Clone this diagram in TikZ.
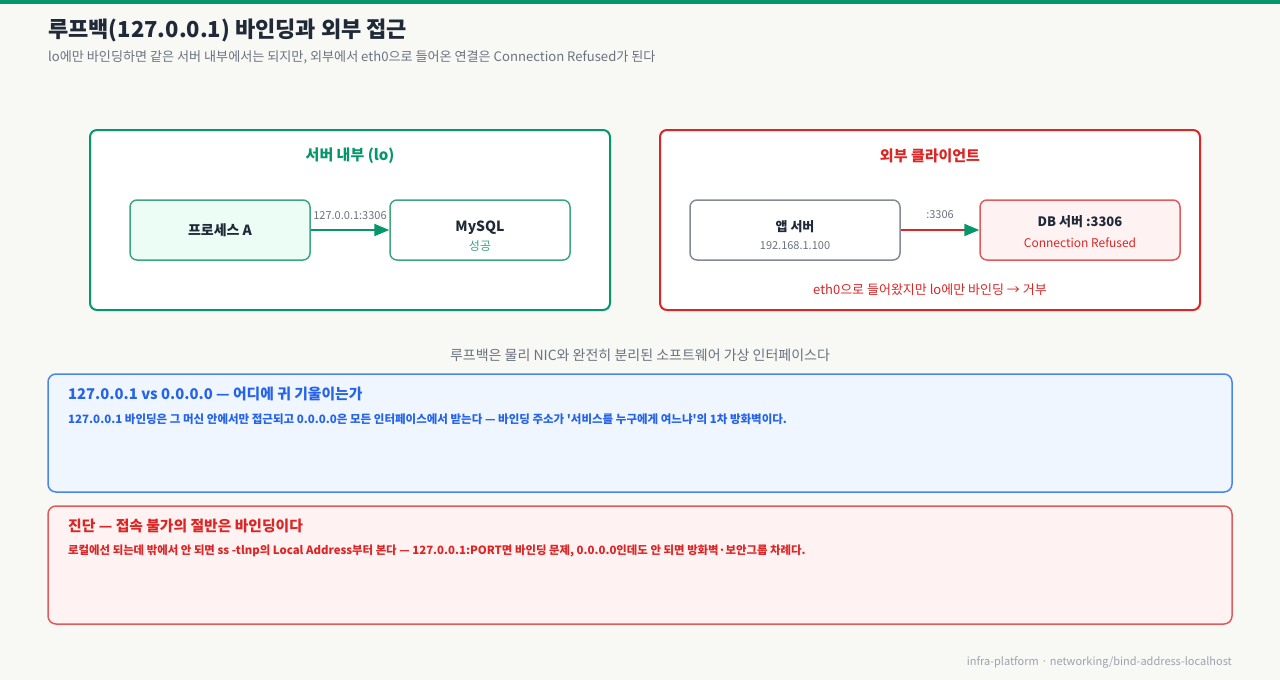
\documentclass[tikz,border=0pt]{standalone}
\usepackage{fontspec}
\setmainfont{Noto Sans CJK KR}[Ligatures=TeXOff]
\usetikzlibrary{arrows.meta}
\definecolor{bgpage}{HTML}{F8F8F5}
\definecolor{okgreen}{HTML}{059669}
\definecolor{okline}{HTML}{3DA57F}
\definecolor{okfill}{HTML}{ECFDF5}
\definecolor{badred}{HTML}{DC2626}
\definecolor{badline}{HTML}{E25A5A}
\definecolor{badfill}{HTML}{FEF2F2}
\definecolor{infoblue}{HTML}{2563EB}
\definecolor{infoline}{HTML}{4A85EE}
\definecolor{infofill}{HTML}{EFF6FF}
\definecolor{inkdark}{HTML}{1F2937}
\definecolor{inkgray}{HTML}{6B7280}
\definecolor{inklight}{HTML}{9CA3AF}
\definecolor{boxgray}{HTML}{848A96}
\begin{document}
\begin{tikzpicture}[x=1pt,y=-1pt,
  panel/.style={line width=2pt,rounded corners=7pt,fill=white},
  hostbox/.style={draw,line width=1.5pt,rounded corners=7pt,minimum height=60pt,inner sep=0pt,align=center},
  link/.style={line width=2pt,-{Triangle[length=15pt,width=12pt]}},
  portlbl/.style={font=\fontsize{11}{13}\selectfont,text=inkgray},
  note/.style={line width=1.5pt,rounded corners=8pt}]
\useasboundingbox (0,0) rectangle (1280,680);
\fill[bgpage] (0,0) rectangle (1280,680);
\fill[okgreen] (0,0) rectangle (1280,4);
% title
\node[anchor=west,inner sep=0pt,text=inkdark,font=\fontsize{22}{26}\selectfont\bfseries] (title) at (48,30) {루프백(127.0.0.1) 바인딩과 외부 접근};
\node[anchor=west,inner sep=0pt,text=inkgray,font=\fontsize{13.1}{16}\selectfont] (subtitle) at (48,57) {lo에만 바인딩하면 같은 서버 내부에서는 되지만, 외부에서 eth0으로 들어온 연결은 Connection Refused가 된다};
% inside the server
\draw[panel,draw=okgreen] (90,130) rectangle (610,310);
\node[text=okgreen,font=\fontsize{15}{18}\selectfont\bfseries] (inside) at (350,156) {서버 내부 (lo)};
\node[hostbox,draw=okline,fill=okfill,minimum width=180pt,text=inkdark,font=\fontsize{14}{17}\selectfont\bfseries] (proc) at (220,230) {프로세스 A};
\node[hostbox,draw=okline,fill=white,minimum width=180pt] (mysql) at (480,230) {{\fontsize{14}{17}\selectfont\bfseries\color{inkdark}\rule{0pt}{22pt}MySQL}\\[5pt]{\fontsize{12}{14}\selectfont\color{okline}성공}};
\draw[link,okgreen] (proc) -- node[portlbl,above=6pt] {127.0.0.1:3306} (mysql);
% external client
\draw[panel,draw=badred] (660,130) rectangle (1200,310);
\node[text=badred,font=\fontsize{15}{18}\selectfont\bfseries] (outside) at (930,156) {외부 클라이언트};
\node[hostbox,draw=boxgray,fill=white,minimum width=210pt] (app) at (795,230) {{\fontsize{13}{16}\selectfont\bfseries\color{inkdark}\rule{0pt}{21pt}앱 서버}\\[6pt]{\fontsize{11}{13}\selectfont\color{inkgray}192.168.1.100}};
\node[hostbox,draw=badline,fill=badfill,minimum width=200pt] (db) at (1080,230) {{\fontsize{13}{16}\selectfont\bfseries\color{inkdark}\rule{0pt}{14pt}DB 서버 :3306}\\[9pt]{\fontsize{12}{14}\selectfont\color{badred}Connection Refused}};
\draw[line width=2pt,badred,-{Triangle[length=15pt,width=12pt,color=okgreen]}] (app) -- node[portlbl,above=7pt] {:3306} (db);
\node[text=badred,font=\fontsize{13}{16}\selectfont] (refused) at (930,290) {eth0으로 들어왔지만 lo에만 바인딩 → 거부};
\node[text=inkgray,font=\fontsize{14}{17}\selectfont] (caption) at (640,355) {루프백은 물리 NIC와 완전히 분리된 소프트웨어 가상 인터페이스다};
% notes
\draw[note,draw=infoline,fill=infofill] (48,374) rectangle (1232,492);
\node[anchor=west,inner sep=0pt,text=infoblue,font=\fontsize{14.8}{18}\selectfont\bfseries] (bindhead) at (68,394) {127.0.0.1 vs 0.0.0.0 — 어디에 귀 기울이는가};
\node[anchor=west,inner sep=0pt,text=infoblue,font=\fontsize{11.5}{13}\selectfont\bfseries] (bindtext) at (68,419) {127.0.0.1 바인딩은 그 머신 안에서만 접근되고 0.0.0.0은 모든 인터페이스에서 받는다 — 바인딩 주소가 '서비스를 누구에게 여느냐'의 1차 방화벽이다.};
\draw[note,draw=badline,fill=badfill] (48,506) rectangle (1232,624);
\node[anchor=west,inner sep=0pt,text=badred,font=\fontsize{14.8}{18}\selectfont\bfseries] (diaghead) at (68,526) {진단 — 접속 불가의 절반은 바인딩이다};
\node[anchor=west,inner sep=0pt,text=badred,font=\fontsize{11.4}{13}\selectfont\bfseries] (diagtext) at (68,551) {로컬에선 되는데 밖에서 안 되면 ss -tlnp의 Local Address부터 본다 — 127.0.0.1:PORT면 바인딩 문제, 0.0.0.0인데도 안 되면 방화벽·보안그룹 차례다.};
\node[anchor=east,inner sep=0pt,text=inklight,font=\fontsize{11}{13}\selectfont] (footer) at (1232,662) {infra-platform · networking/bind-address-localhost};
\end{tikzpicture}
\end{document}
